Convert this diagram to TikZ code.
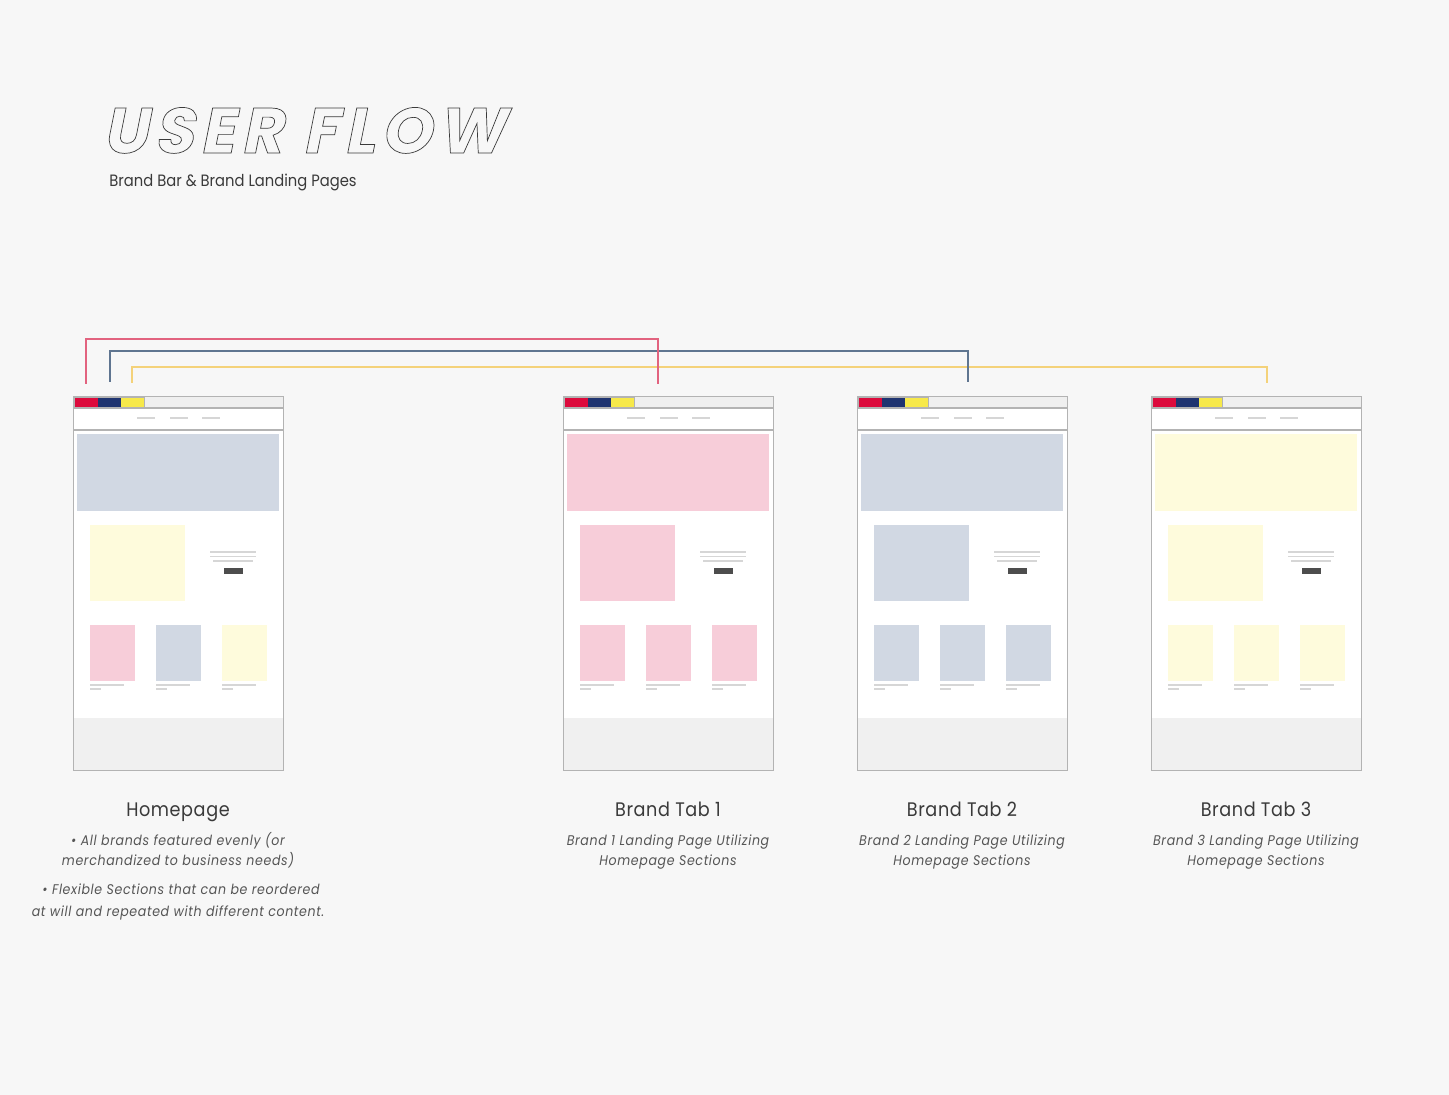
\documentclass[tikz,border=0pt]{standalone}
\usepackage{fontspec}
\setmainfont{Poppins}[FakeStretch=0.9]
\newfontfamily\titlefont{Poppins}[FakeSlant=0.2,LetterSpace=10]
\newfontfamily\lblfont{Poppins}[FakeStretch=0.9,LetterSpace=3]
\newfontfamily\subfont{Poppins}[FakeStretch=0.9,LetterSpace=4.5]
\definecolor{bgc}{HTML}{F7F7F7}
\definecolor{framec}{HTML}{B3B3B3}
\definecolor{barc}{HTML}{EFEFEF}
\definecolor{footc}{HTML}{F0F0F0}
\definecolor{dashc}{HTML}{D6D6D6}
\definecolor{btnc}{HTML}{4D4D4D}
\definecolor{heroblue}{HTML}{D1D8E3}
\definecolor{heropink}{HTML}{F7CDD9}
\definecolor{heroyel}{HTML}{FEFBDC}
\definecolor{tabred}{HTML}{DC0A3C}
\definecolor{tabblue}{HTML}{1F3470}
\definecolor{tabyel}{HTML}{F7E94A}
\definecolor{linered}{HTML}{E2637F}
\definecolor{lineblue}{HTML}{5F7590}
\definecolor{lineyel}{HTML}{F4D27A}
\definecolor{txtc}{HTML}{3A3A3A}
\definecolor{subc}{HTML}{555555}
\tikzset{
  framebox/.style={draw=framec,line width=0.6pt,inner sep=0pt,minimum width=105pt,minimum height=187pt,anchor=north west},
  navdash/.style={draw=dashc,line width=1pt},
  txtline/.style={draw=dashc,line width=0.8pt},
  flow/.style={line width=1pt},
  lbl/.style={text=txtc,font=\lblfont\fontsize{9.8}{11}\selectfont,inner sep=0pt,anchor=base},
  sub/.style={text=subc,font=\subfont\fontsize{7.0}{8}\selectfont\itshape,inner sep=0pt,anchor=base},
}
\newcommand\wfr[7]{%
\begin{scope}[shift={(#1,0)}]
  \fill[white] (73,408) rectangle (283,718);
  \fill[footc] (73,718) rectangle (283,770);
  \fill[barc] (73,396) rectangle (283,408);
  \fill[tabred] (74,397) rectangle (97.5,407.5);
  \fill[tabblue] (97.5,397) rectangle (121,407.5);
  \fill[tabyel] (121,397) rectangle (144,407.5);
  \draw[framec,line width=0.4pt] (74,397) rectangle (144,407.5);
  \draw[navdash] (137,418) -- (155,418) (170,418) -- (188,418) (202,418) -- (220,418);
  \draw[framec,line width=0.6pt] (73,408) -- (283,408) (73,430) -- (283,430);
  \fill[#3] (77,434) rectangle (279,511);
  \fill[#4] (90,525) rectangle (185,601);
  \draw[txtline] (210,552) -- (256,552) (210,556.5) -- (256,556.5) (213,561) -- (253,561);
  \fill[btnc] (224,568) rectangle (243,574);
  \fill[#5] (90,625) rectangle (135,681);
  \fill[#6] (156,625) rectangle (201,681);
  \fill[#7] (222,625) rectangle (267,681);
  \foreach \cx in {90,156,222}{
    \draw[txtline,line width=0.6pt] (\cx,685) -- ++(34,0) (\cx,689) -- ++(11,0);
  }
  \node[framebox] (#2) at (73,396) {};
\end{scope}}
\begin{document}
\begin{tikzpicture}[x=0.5pt,y=-0.5pt]
\useasboundingbox (0,0) rectangle (1449,1095);
\fill[bgc] (0,0) rectangle (1449,1095);
% title
\node[inner sep=0pt,anchor=base west,text=txtc,font=\titlefont\bfseries\fontsize{32}{36}\selectfont] (title) at (102,153)
  {\special{pdf:literal direct 1 Tr 0.35 w}USER FLOW\special{pdf:literal direct 0 Tr}};
\node[inner sep=0pt,anchor=base west,text=txtc,font=\fontsize{8.2}{10}\selectfont] (subtitle) at (109,187) {Brand Bar \& Brand Landing Pages};
% wireframes
\wfr{0}{home}{heroblue}{heroyel}{heropink}{heroblue}{heroyel}
\wfr{490}{tab1}{heropink}{heropink}{heropink}{heropink}{heropink}
\wfr{784}{tab2}{heroblue}{heroblue}{heroblue}{heroblue}{heroblue}
\wfr{1078}{tab3}{heroyel}{heroyel}{heroyel}{heroyel}{heroyel}
% connectors
\coordinate (rs) at (86,384); \coordinate (rc) at (86,339); \coordinate (re) at (658,384);
\coordinate (bs) at (110,382); \coordinate (bc) at (110,351); \coordinate (be) at (968,382);
\coordinate (ys) at (132,383); \coordinate (yc) at (132,367); \coordinate (ye) at (1267,383);
\draw[flow,lineyel] (ys) -- (yc) -| (ye);
\draw[flow,lineblue] (bs) -- (bc) -| (be);
\draw[flow,linered] (rs) -- (rc) -| (re);
% labels
\node[lbl] (lhome) at (178,816) {Homepage};
\node[sub] (h1) at (178,845) {• All brands featured evenly (or};
\node[sub] (h2) at (178,865) {merchandized to business needs)};
\node[sub] (h3) at (181,894) {• Flexible Sections that can be reordered};
\node[sub] (h4) at (178,916) {at will and repeated with different content.};
\node[lbl] (l1) at (668,816) {Brand Tab 1};
\node[sub] (s1a) at (668,845) {Brand 1 Landing Page Utilizing};
\node[sub] (s1b) at (668,865) {Homepage Sections};
\node[lbl] (l2) at (962,816) {Brand Tab 2};
\node[sub] (s2a) at (962,845) {Brand 2 Landing Page Utilizing};
\node[sub] (s2b) at (962,865) {Homepage Sections};
\node[lbl] (l3) at (1256,816) {Brand Tab 3};
\node[sub] (s3a) at (1256,845) {Brand 3 Landing Page Utilizing};
\node[sub] (s3b) at (1256,865) {Homepage Sections};
\end{tikzpicture}
\end{document}
